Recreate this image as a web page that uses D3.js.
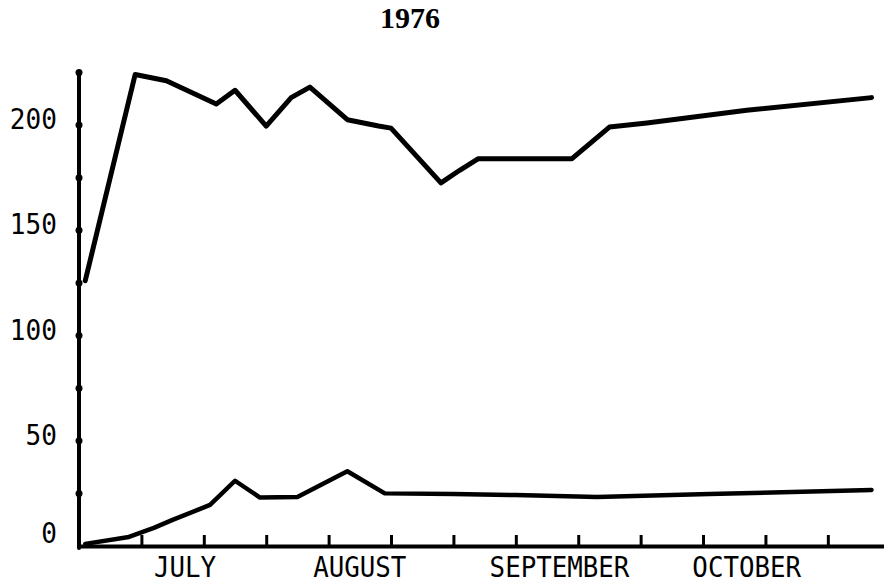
<!DOCTYPE html>
<html>
<head>
<meta charset="utf-8">
<script src="https://cdn.jsdelivr.net/npm/d3@7"></script>
<style>
  body { margin: 0; background: #fff; }
  svg { display: block; }
  .lbl { font-family: "DejaVu Sans Mono", "Liberation Mono", monospace; font-size: 29px; fill: #000; }
</style>
</head>
<body>
<svg id="chart" width="884" height="588"></svg>
<script>
var upperDates = ["1976-06-22", "1976-06-30", "1976-07-05", "1976-07-13", "1976-07-16", "1976-07-21",
  "1976-07-25", "1976-07-28", "1976-08-03", "1976-08-08", "1976-08-10", "1976-08-18", "1976-08-21",
  "1976-08-24", "1976-09-08", "1976-09-14", "1976-09-20", "1976-10-06", "1976-10-26"];
var upperValues = [126, 224, 221, 210, 216.5, 199.5, 213, 218, 202.5, 199.5, 198.5, 172.5, 178.5,
  184, 184, 199, 201, 207, 213];

var lowerDates = ["1976-06-22", "1976-06-29", "1976-07-03", "1976-07-06", "1976-07-12", "1976-07-16",
  "1976-07-20", "1976-07-26", "1976-08-03", "1976-08-09", "1976-08-20", "1976-08-30", "1976-09-12",
  "1976-09-30", "1976-10-26"];
var lowerValues = [1, 4.3, 8.6, 12.4, 19.5, 31, 23, 23.3, 35.5, 25, 24.7, 24.2, 23.3, 24.7, 26.6];

var yTickLabels = [0, 50, 100, 150, 200];
var monthLabels = ["JULY", "AUGUST", "SEPTEMBER", "OCTOBER"];
var monthLabelDates = ["1976-07-08", "1976-08-05", "1976-09-06", "1976-10-06"];
var title = "1976";

var parse = d3.timeParse("%Y-%m-%d");
var svg = d3.select("#chart");

var x = d3.scaleTime()
  .domain([parse("1976-06-21"), parse("1976-10-28")])
  .range([79, 884]);
var y = d3.scaleLinear()
  .domain([0, 200])
  .range([546, 125]);

// x axis: ticks every 10 days, pointing up
var xTicks = d3.timeDay.range(parse("1976-07-01"), parse("1976-10-20"), 10);
var xAxis = svg.append("g")
  .attr("transform", "translate(0," + y(0) + ")")
  .call(d3.axisBottom(x).tickValues(xTicks).tickSize(-11).tickSizeOuter(0).tickFormat(""));
xAxis.select(".domain").attr("stroke", "#000").attr("stroke-width", 4);
xAxis.selectAll(".tick line").attr("stroke", "#000").attr("stroke-width", 3);

// y axis: plain line with little dots every 25
var yAxisTop = 225;
var yAxis = svg.append("g")
  .attr("transform", "translate(79,0)")
  .call(d3.axisLeft(y).tickValues([]).tickSizeOuter(0));
yAxis.select(".domain").remove();
yAxis.append("line")
  .attr("x1", 0).attr("x2", 0)
  .attr("y1", y(0) + 2).attr("y2", y(yAxisTop))
  .attr("stroke", "#000").attr("stroke-width", 4).attr("stroke-linecap", "round");
yAxis.selectAll("circle")
  .data(d3.range(25, yAxisTop + 1, 25))
  .enter().append("circle")
  .attr("cx", 0)
  .attr("cy", function (d) { return y(d); })
  .attr("r", 3.5)
  .attr("fill", "#000");

// typewriter-ish labels: mono font squeezed a little
svg.append("g")
  .selectAll("text")
  .data(yTickLabels)
  .enter().append("text")
  .attr("class", "lbl")
  .attr("transform", function (d) {
    return "translate(57," + Math.min(y(d) + 4, y(0) - 3) + ") scale(0.9,1)";
  })
  .attr("text-anchor", "end")
  .text(function (d) { return d; });

svg.append("g")
  .selectAll("text")
  .data(monthLabels)
  .enter().append("text")
  .attr("class", "lbl")
  .attr("transform", function (d, i) {
    return "translate(" + x(parse(monthLabelDates[i])) + ",577) scale(0.89,1)";
  })
  .attr("text-anchor", "middle")
  .text(function (d) { return d; });

svg.append("text")
  .attr("x", 410)
  .attr("y", 28)
  .attr("text-anchor", "middle")
  .style("font-family", "'Liberation Serif', 'DejaVu Serif', serif")
  .style("font-weight", "bold")
  .style("font-size", "30px")
  .text(title);

var line = d3.line()
  .x(function (d) { return x(d[0]); })
  .y(function (d) { return y(d[1]); });

function series(dates, values) {
  return dates.map(function (d, i) { return [parse(d), values[i]]; });
}

[series(upperDates, upperValues), series(lowerDates, lowerValues)].forEach(function (s, i) {
  svg.append("path")
    .datum(s)
    .attr("d", line)
    .attr("fill", "none")
    .attr("stroke", "#000")
    .attr("stroke-width", i == 0 ? 5 : 4.5)
    .attr("stroke-linejoin", "round")
    .attr("stroke-linecap", "round");
});
</script>
</body>
</html>
